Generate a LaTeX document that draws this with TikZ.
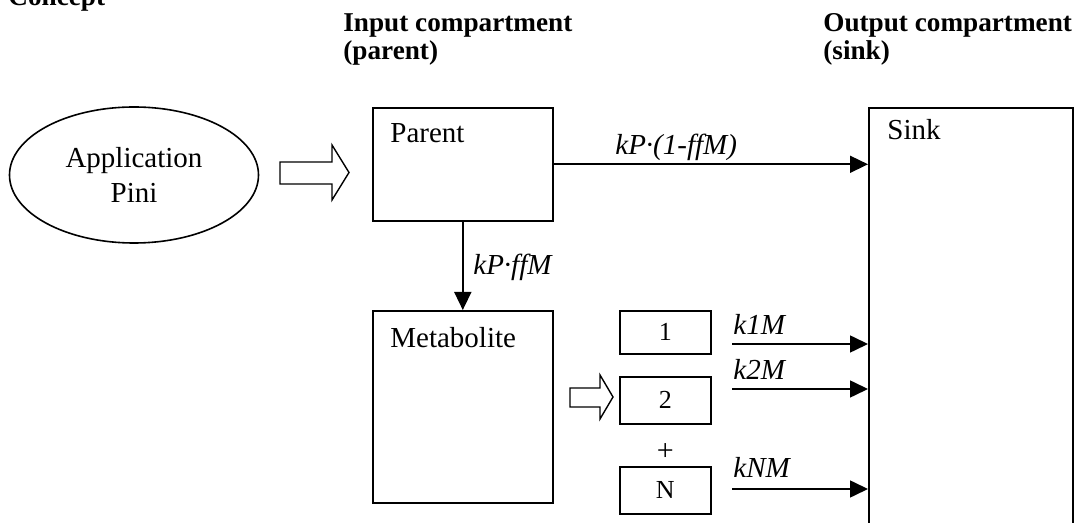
\documentclass[tikz,border=0pt]{standalone}
\usepackage{fontspec}
\setmainfont{Liberation Serif}
\usetikzlibrary{arrows.meta,shapes.geometric}
\begin{document}
\begin{tikzpicture}[x=0.5pt,y=-0.5pt,
  box/.style={draw,line width=0.8pt,inner sep=0pt,anchor=north west},
  flow/.style={line width=0.8pt,-{Triangle[length=9pt,width=8.5pt]}},
  hollow/.style={draw,line width=0.7pt,fill=white},
  txt/.style={anchor=base west,inner sep=0pt,font=\fontsize{14.5}{17}\selectfont},
  head/.style={anchor=north west,inner sep=0pt,align=left,font=\fontsize{13.6}{14}\selectfont\bfseries},
  small/.style={font=\fontsize{13}{15}\selectfont}]
\useasboundingbox (0,0) rectangle (1077,523);
\clip (0,0) rectangle (1077,523);
% headings
\node[txt,font=\fontsize{13.6}{14}\selectfont\bfseries] (concept) at (8,6) {Concept};
\node[head] (inhead) at (343,13) {Input compartment\\(parent)};
\node[head] (outhead) at (823,13) {Output compartment\\(sink)};
% application
\node[draw,ellipse,line width=0.8pt,minimum width=124.5pt,minimum height=68pt,align=center,
  font=\fontsize{14.5}{17.5}\selectfont] (appl) at (134,175) {Application\\Pini};
\draw[hollow] (280,162) -- (332,162) -- (332,145) -- (349,172.5) -- (332,200) -- (332,184) -- (280,184) -- cycle;
% compartments
\node[box,minimum width=90pt,minimum height=56.5pt] (parent) at (372,107) {};
\node[txt] (parentlbl) at (390,143) {Parent};
\node[box,minimum width=90pt,minimum height=96pt] (metab) at (372,310) {};
\node[txt] (metablbl) at (390,348) {Metabolite};
\node[box,minimum width=102pt,minimum height=226.5pt] (sink) at (868,107) {};
\node[txt] (sinklbl) at (887,140) {Sink};
% metabolites
\node[box,small,minimum width=45.5pt,minimum height=21.5pt] (m1) at (619,310) {1};
\node[box,small,minimum width=45.5pt,minimum height=23.5pt] (m2) at (619,376) {2};
\node[inner sep=0pt,font=\fontsize{15}{17}\selectfont] (plus) at (m2.south |- 0,452) {+};
\node[box,small,minimum width=45.5pt,minimum height=23.5pt] (mN) at (619,466) {N};
\draw[hollow] (570,388) -- (600,388) -- (600,375) -- (613,397) -- (600,419) -- (600,407) -- (570,407) -- cycle;
% fluxes
\draw[flow] (parent.east) -- (parent.east -| sink.west);
\node[txt] (kp) at (615,155) {\textit{kP·(1-ffM)}};
\draw[flow] (parent.south) -- (metab.north);
\node[txt] (kpff) at (473,275) {\textit{kP·ffM}};
\coordinate (k1) at (732,344);
\coordinate (k2) at (732,389);
\coordinate (kN) at (732,489);
\draw[flow] (k1) -- (k1 -| sink.west);
\draw[flow] (k2) -- (k2 -| sink.west);
\draw[flow] (kN) -- (kN -| sink.west);
\node[txt] (k1lbl) at (733,335) {\textit{k1M}};
\node[txt] (k2lbl) at (733,380) {\textit{k2M}};
\node[txt] (kNlbl) at (733,478) {\textit{kNM}};
\end{tikzpicture}
\end{document}
